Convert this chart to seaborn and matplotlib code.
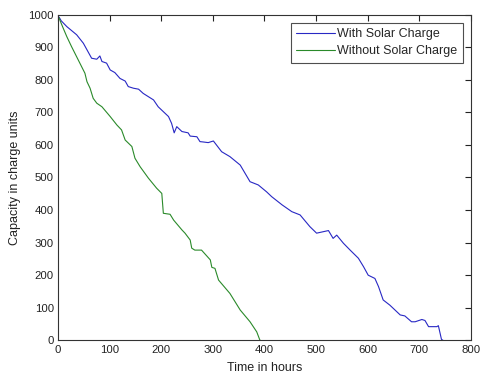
import matplotlib
matplotlib.use("Agg")
import matplotlib.pyplot as plt
import seaborn as sns
import pandas as pd

# With Solar Charge
with_x = [2, 6, 17, 36, 49, 65, 75, 81, 85, 94, 101, 110, 120, 130, 136, 146, 156, 165, 175,
          185, 194, 204, 214, 220, 225, 230, 240, 246, 252, 256, 269, 275, 281, 291, 301, 317,
          333, 353, 372, 388, 404, 414, 434, 453, 469, 488, 501, 524, 533, 540, 553, 566, 582,
          592, 601, 614, 621, 630, 643, 663, 672, 685, 692, 705, 711, 718, 734, 737, 743, 746]
with_y = [992, 981, 963, 938, 912, 866, 863, 873, 856, 851, 830, 822, 804, 796, 779, 774, 771,
          758, 748, 738, 717, 702, 687, 666, 637, 656, 641, 639, 637, 627, 625, 610, 609, 607,
          612, 579, 564, 538, 487, 477, 456, 441, 416, 395, 385, 349, 329, 337, 313, 323, 298,
          277, 252, 226, 200, 190, 165, 124, 108, 78, 75, 57, 57, 64, 61, 42, 42, 45, 3, 0]

# Without Solar Charge
without_x = [2, 4, 10, 17, 26, 39, 52, 56, 62, 68, 75, 85, 101, 114, 123, 130, 143, 149, 159,
             175, 191, 201, 204, 217, 224, 240, 246, 256, 259, 265, 278, 295, 298, 304, 311,
             333, 353, 372, 385, 391, 392]
without_y = [990, 981, 958, 932, 902, 861, 820, 794, 774, 743, 728, 717, 687, 661, 646, 615,
             595, 559, 533, 498, 467, 451, 390, 387, 369, 339, 329, 308, 283, 277, 277, 247,
             224, 221, 185, 144, 93, 57, 26, 1, 0]

x_ticks = [0, 100, 200, 300, 400, 500, 600, 700, 800]
y_ticks = [0, 100, 200, 300, 400, 500, 600, 700, 800, 900, 1000]

df = pd.concat([
    pd.DataFrame({"t": with_x, "c": with_y, "series": "With Solar Charge"}),
    pd.DataFrame({"t": without_x, "c": without_y, "series": "Without Solar Charge"}),
], ignore_index=True)

sns.set_theme(style="white")
plt.rcParams['font.family'] = ['Liberation Sans', 'DejaVu Sans']

fig = plt.figure(figsize=(4.8, 3.74), dpi=100)
ax = fig.add_axes([0.121, 0.090, 0.860, 0.871])

sns.lineplot(data=df, x="t", y="c", hue="series", sort=False, estimator=None,
             palette={"With Solar Charge": "#2828c4", "Without Solar Charge": "#2a8a2a"},
             linewidth=0.8, ax=ax)

ax.set_xlim(0, 800)
ax.set_ylim(0, 1000)
ax.set_xticks(x_ticks)
ax.set_yticks(y_ticks)
ax.tick_params(direction="in", length=4, width=0.8, top=True, right=True,
               labelsize=8.2, colors="#222222", pad=3)
for s in ax.spines.values():
    s.set_color("#333333")
    s.set_linewidth(0.8)
ax.set_xlabel("Time in hours", fontsize=9, labelpad=5.5, color="#222222")
ax.set_ylabel("Capacity in charge units", fontsize=9, labelpad=5.5, color="#222222")

leg = ax.legend(loc="upper right", fontsize=9, frameon=True, fancybox=False,
                borderaxespad=0.65, handlelength=3.1, handletextpad=0.15,
                borderpad=0.45, labelspacing=0.4)
leg.get_frame().set_edgecolor("#222222")
leg.get_frame().set_linewidth(0.8)

fig.savefig("out.png", dpi=100, facecolor="white")
